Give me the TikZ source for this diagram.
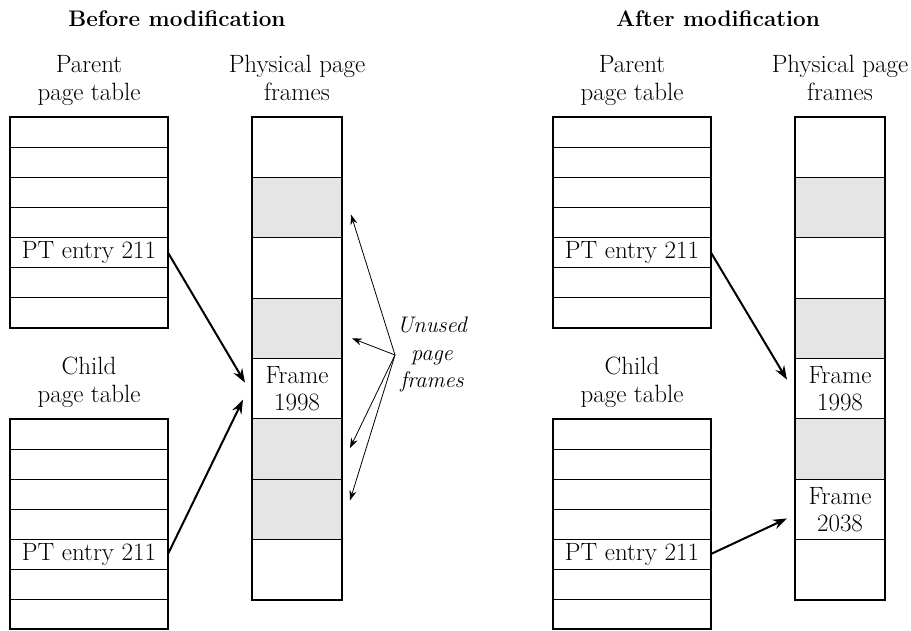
\documentclass[tikz,border=0pt]{standalone}
\usetikzlibrary{positioning,arrows.meta,calc}
\begin{document}
\begin{tikzpicture}[x=1pt,y=-1pt,font=\fontsize{25}{28}\selectfont,
  cell/.style={draw,line width=0.9pt,anchor=north west,minimum width=158pt,minimum height=30.14pt,inner sep=1pt,outer sep=0pt},
  kid/.style={cell,minimum height=30pt},
  frm/.style={cell,minimum width=90pt,minimum height=60.375pt,align=center,font=\fontsize{25}{26.5}\selectfont},
  free/.style={frm,fill=black!10},
  box/.style={line width=2.2pt},
  ptr/.style={-{Stealth[length=14pt,width=10pt]},line width=2pt},
  hint/.style={-{Stealth[length=10pt,width=7pt]},line width=0.8pt},
  head/.style={anchor=base,font=\fontsize{22.5}{28}\selectfont\bfseries},
  lbl/.style={align=center,inner sep=1pt}]
\useasboundingbox (0,0) rectangle (911,630);

% before modification
\node[head] (before) at (177,26) {Before modification};

\node[cell] (bp1) at (10,117)    {};
\node[cell] (bp2) at (10,147.14) {};
\node[cell] (bp3) at (10,177.28) {};
\node[cell] (bp4) at (10,207.42) {};
\node[cell] (bp5) at (10,237.56) {PT entry 211};
\node[cell] (bp6) at (10,267.7)  {};
\node[cell] (bp7) at (10,297.84) {};

\node[kid] (bc1) at (10,419) {};
\node[kid] (bc2) at (10,449) {};
\node[kid] (bc3) at (10,479) {};
\node[kid] (bc4) at (10,509) {};
\node[kid] (bc5) at (10,539) {PT entry 211};
\node[kid] (bc6) at (10,569) {};
\node[kid] (bc7) at (10,599) {};

\node[frm]  (bf1) at (252,117)     {};
\node[free] (bf2) at (252,177.375) {};
\node[frm]  (bf3) at (252,237.75)  {};
\node[free] (bf4) at (252,298.125) {};
\node[frm]  (bf5) at (252,358.5)   {Frame\\1998};
\node[free] (bf6) at (252,418.875) {};
\node[free] (bf7) at (252,479.25)  {};
\node[frm]  (bf8) at (252,539.625) {};

\draw[box] (bp1.north west) rectangle (bp7.south east);
\draw[box] (bc1.north west) rectangle (bc7.south east);
\draw[box] (bf1.north west) rectangle (bf8.south east);

\node[lbl,above=10pt of bp1]   (bplbl) {Parent\\page table};
\node[lbl,above=15pt of bf1]   (bflbl) {Physical page\\frames};
\node[lbl,above=10pt of bc1]   (bclbl) {Child\\page table};

\draw[ptr] (bp5.east) -- ($(bf5.west)+(-7,-6)$);
\draw[ptr] (bc5.east) -- ($(bf5.west)+(-9,11)$);

\node[lbl,anchor=north,font=\fontsize{22.5}{27.5}\selectfont\itshape] (unused) at (432,316) {Unused\\page\\frames};
\coordinate (fan) at (395,355);
\draw[hint] (fan) -- ($(bf2.east)+(9,7)$);
\draw[hint] (fan) -- ($(bf4.east)+(10,10)$);
\draw[hint] (fan) -- ($(bf6.east)+(8,-1)$);
\draw[hint] (fan) -- ($(bf7.east)+(8,-9)$);

% after modification
\node[head] (after) at (718,26) {After modification};

\node[cell] (ap1) at (553,117)    {};
\node[cell] (ap2) at (553,147.14) {};
\node[cell] (ap3) at (553,177.28) {};
\node[cell] (ap4) at (553,207.42) {};
\node[cell] (ap5) at (553,237.56) {PT entry 211};
\node[cell] (ap6) at (553,267.7)  {};
\node[cell] (ap7) at (553,297.84) {};

\node[kid] (ac1) at (553,419) {};
\node[kid] (ac2) at (553,449) {};
\node[kid] (ac3) at (553,479) {};
\node[kid] (ac4) at (553,509) {};
\node[kid] (ac5) at (553,539) {PT entry 211};
\node[kid] (ac6) at (553,569) {};
\node[kid] (ac7) at (553,599) {};

\node[frm]  (af1) at (795,117)     {};
\node[free] (af2) at (795,177.375) {};
\node[frm]  (af3) at (795,237.75)  {};
\node[free] (af4) at (795,298.125) {};
\node[frm]  (af5) at (795,358.5)   {Frame\\1998};
\node[free] (af6) at (795,418.875) {};
\node[frm]  (af7) at (795,479.25)  {Frame\\2038};
\node[frm]  (af8) at (795,539.625) {};

\draw[box] (ap1.north west) rectangle (ap7.south east);
\draw[box] (ac1.north west) rectangle (ac7.south east);
\draw[box] (af1.north west) rectangle (af8.south east);

\node[lbl,above=10pt of ap1]   (aplbl) {Parent\\page table};
\node[lbl,above=15pt of af1]   (aflbl) {Physical page\\frames};
\node[lbl,above=10pt of ac1]   (aclbl) {Child\\page table};

\draw[ptr] (ap5.east) -- ($(af5.west)+(-8,-9)$);
\draw[ptr] (ac5.east) -- ($(af7.west)+(-8,9)$);
\end{tikzpicture}
\end{document}
